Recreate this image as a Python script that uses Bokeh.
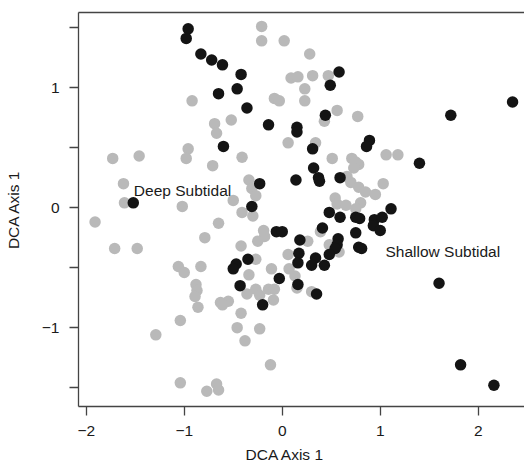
import math
from bokeh.plotting import figure
from bokeh.models import FixedTicker, Range1d, LinearAxis, Label, ColumnDataSource, Title
from bokeh.embed import file_html
from bokeh.resources import INLINE

# ---- data ----
deep_x = [-0.21, -0.21, 0.02, 0.28, 0.09, 0.16, 0.31, 0.47, 0.23, -0.08,
          -0.03, 0.23, -0.52, 0.56, 0.77, 0.43, 0.06, 0.34, -0.41, 0.51,
          0.71, 1.06, 1.18, -0.92, -0.69, -0.67, -0.96, -0.98, -0.71, -1.73,
          -1.46, -1.62, -1.61, -1.02, 0.75, 0.78, 0.73, 0.66, 0.70, 0.78,
          0.85, 0.95, 1.03, -0.34, -0.31, -0.27, -0.50, 0.54, 0.56, 0.65,
          0.80, 0.75, -0.41, -0.30, -1.91, -0.65, -0.19, -0.18, -0.25, -0.79,
          -1.71, -1.48, -0.42, -0.27, 0.06, -1.06, -1.00, -0.83, -0.11, -0.34,
          -0.88, -0.87, -0.89, -0.86, -0.36, -0.27, -0.23, -0.14, -0.08, -0.09,
          -0.63, -0.55, -0.61, -1.04, -1.29, -0.42, -0.46, -0.38, -0.23, -0.12,
          -1.04, -0.67, -0.65, -0.77, 0.13, 0.07, 0.26, 0.39, 0.48, 0.58,
          0.15, 0.30]
deep_y = [1.51, 1.39, 1.39, 1.28, 1.08, 1.09, 1.10, 1.10, 0.99, 0.91,
          0.89, 0.89, 0.73, 0.81, 0.76, 0.72, 0.54, 0.54, 0.42, 0.41,
          0.41, 0.44, 0.44, 0.89, 0.70, 0.62, 0.49, 0.41, 0.35, 0.41,
          0.43, 0.20, 0.04, 0.01, 0.38, 0.36, 0.33, 0.26, 0.21, 0.17,
          0.13, 0.11, 0.20, 0.23, 0.16, 0.10, 0.06, 0.08, 0.03, 0.02,
          0.04, -0.01, -0.04, -0.07, -0.12, -0.13, -0.19, -0.24, -0.28, -0.25,
          -0.34, -0.34, -0.32, -0.43, -0.39, -0.49, -0.54, -0.49, -0.51, -0.56,
          -0.64, -0.69, -0.74, -0.83, -0.72, -0.68, -0.73, -0.68, -0.68, -0.77,
          -0.79, -0.78, -0.81, -0.94, -1.06, -0.88, -1.00, -1.11, -1.01, -1.31,
          -1.46, -1.47, -1.52, -1.53, -0.57, -0.51, -0.28, -0.20, -0.31, -0.37,
          -0.67, -0.70]

shallow_x = [-0.96, -0.98, -0.83, -0.72, -0.61, -0.42, -0.46, -0.65, -0.36, -0.14,
             -0.60, -1.52, 0.58, 0.49, 0.44, 0.15, 0.15, 0.31, 0.89, 0.86,
             0.32, 0.37, 0.38, 0.59, 0.14, -0.23, -0.31, 1.72, 2.35, 1.40,
             1.11, 0.48, 0.59, 0.75, 0.79, 0.94, 1.02, 0.93, 1.00, 0.41,
             0.75, -0.06, 0.00, 0.18, 0.57, 0.56, 0.54, 0.17, 0.16, 0.48,
             0.34, 0.30, 0.43, 0.78, 0.81, -0.35, -0.47, -0.50, -0.03, -0.43,
             0.16, 0.35, -0.20, 1.60, 1.82, 2.16]
shallow_y = [1.49, 1.41, 1.28, 1.23, 1.19, 1.11, 0.99, 0.95, 0.83, 0.69,
             0.51, 0.04, 1.13, 1.02, 0.77, 0.67, 0.63, 0.49, 0.56, 0.51,
             0.33, 0.25, 0.22, 0.25, 0.23, 0.20, 0.01, 0.77, 0.88, 0.37,
             -0.01, -0.04, -0.08, -0.08, -0.09, -0.10, -0.08, -0.15, -0.19, -0.17,
             -0.21, -0.20, -0.20, -0.27, -0.26, -0.31, -0.34, -0.38, -0.46, -0.39,
             -0.42, -0.48, -0.48, -0.33, -0.34, -0.43, -0.47, -0.51, -0.59, -0.65,
             -0.64, -0.72, -0.81, -0.63, -1.31, -1.48]

x_ticks = [-2, -1, 0, 1, 2]
x_tick_labels = ["\u22122", "\u22121", "0", "1", "2"]
y_ticks = [-1.5, -1, -0.5, 0, 0.5, 1, 1.5]
y_tick_labels = ["", "\u22121", "", "0", "", "1", ""]
x_title = "DCA Axis 1"
y_title = "DCA Axis 1"
group_labels = ["Deep Subtidal", "Shallow Subtidal"]

FONT = "Liberation Sans"
FS = "15.5px"
AXC = "#444444"
TXT = "#1a1a1a"

p = figure(width=524, height=468,
           x_range=Range1d(-2.079, 2.472), y_range=Range1d(-1.657, 1.626),
           output_backend="svg", toolbar_location=None,
           min_border_left=78, min_border_right=0, min_border_top=12,
           min_border_bottom=62)
p.outline_line_color = None
p.xgrid.visible = False
p.ygrid.visible = False
p.background_fill_color = "white"
p.border_fill_color = "white"

def style_axis(ax):
    ax.axis_line_color = AXC
    ax.axis_line_width = 1.3
    ax.major_tick_line_color = AXC
    ax.major_tick_line_width = 1.3
    ax.major_tick_out = 9
    ax.major_tick_in = 0
    ax.minor_tick_line_color = None
    ax.major_label_text_font = FONT
    ax.major_label_text_font_size = FS
    ax.major_label_text_color = TXT

xa = p.xaxis[0]
style_axis(xa)
xa.ticker = FixedTicker(ticks=x_ticks)
xa.major_label_overrides = {t: s for t, s in zip(x_ticks, x_tick_labels)}
xa.major_label_standoff = 10

ya = p.yaxis[0]
style_axis(ya)
ya.ticker = FixedTicker(ticks=y_ticks)
ya.major_label_overrides = {t: s for t, s in zip(y_ticks, y_tick_labels)}
ya.major_label_standoff = 10
ya.axis_label = y_title
ya.axis_label_text_font = FONT
ya.axis_label_text_font_size = FS
ya.axis_label_text_font_style = "normal"
ya.axis_label_text_color = TXT
ya.axis_label_standoff = 17

top = LinearAxis(ticker=FixedTicker(ticks=[]))
top.axis_line_color = AXC
top.axis_line_width = 1.3
top.major_tick_line_color = None
top.minor_tick_line_color = None
top.major_label_text_font_size = "0px"
p.add_layout(top, "above")

# x-axis title (offset to the left like the reference)
p.add_layout(Title(text=x_title, align="left", offset=167, text_font=FONT,
                   text_font_size=FS, text_font_style="normal",
                   text_color=TXT, standoff=10), "below")

src_deep = ColumnDataSource(dict(x=deep_x, y=deep_y))
src_sh = ColumnDataSource(dict(x=shallow_x, y=shallow_y))
p.scatter("x", "y", source=src_deep, size=11.5, fill_color="#b9b9b9",
          line_color=None)
p.scatter("x", "y", source=src_sh, size=11.5, fill_color="#141414",
          line_color=None)

p.add_layout(Label(x=-1.514, y=0.145, text=group_labels[0], text_font=FONT,
                   text_font_size=FS, text_color=TXT, text_align="left",
                   text_baseline="alphabetic"))
p.add_layout(Label(x=1.054, y=-0.363, text=group_labels[1], text_font=FONT,
                   text_font_size=FS, text_color=TXT, text_align="left",
                   text_baseline="alphabetic"))

open("out.html", "w").write(file_html(p, INLINE))
